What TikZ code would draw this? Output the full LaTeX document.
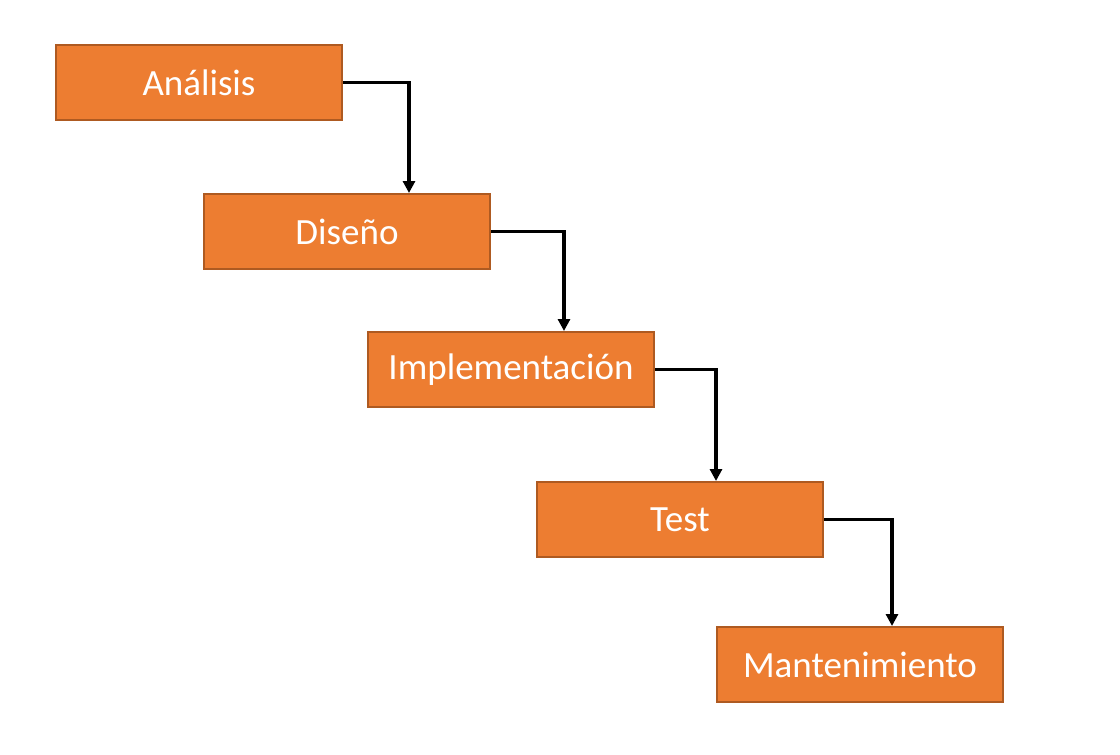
\documentclass[tikz,border=0pt]{standalone}
\usepackage{fontspec}
\setmainfont{Carlito}
\usetikzlibrary{arrows.meta}
\definecolor{faseorange}{HTML}{ED7D31}
\definecolor{faseborder}{HTML}{AE5A21}
\tikzset{
  fase/.style={draw=faseborder, line width=2pt, fill=faseorange, text=white,
    minimum width=286pt, minimum height=75pt, inner sep=0pt,
    font=\fontsize{37}{44}\selectfont},
  flujo/.style={line width=3.5pt, -{Triangle[length=12pt,width=12pt]}}
}
\begin{document}
\begin{tikzpicture}[x=1pt,y=-1pt]
		\useasboundingbox (0,0) rectangle (1120,755);
		\node[fase] (analisis) at (199,82.5) {Análisis};
		\node[fase] (diseno) at (347,231.5) {Diseño};
		\node[fase] (implementacion) at (511,369.5) {Implementación};
		\node[fase] (test) at (680,519.5) {Test};
		\node[fase] (mantenimiento) at (860,664.5) {Mantenimiento};
		\coordinate (k1) at (409,0);
		\coordinate (k2) at (564,0);
		\coordinate (k3) at (716,0);
		\coordinate (k4) at (892,0);
		\draw[flujo] (analisis.east) -| (k1 |- diseno.north);
		\draw[flujo] (diseno.east) -| (k2 |- implementacion.north);
		\draw[flujo] (implementacion.east) -| (k3 |- test.north);
		\draw[flujo] (test.east) -| (k4 |- mantenimiento.north);
		\end{tikzpicture}
\end{document}
